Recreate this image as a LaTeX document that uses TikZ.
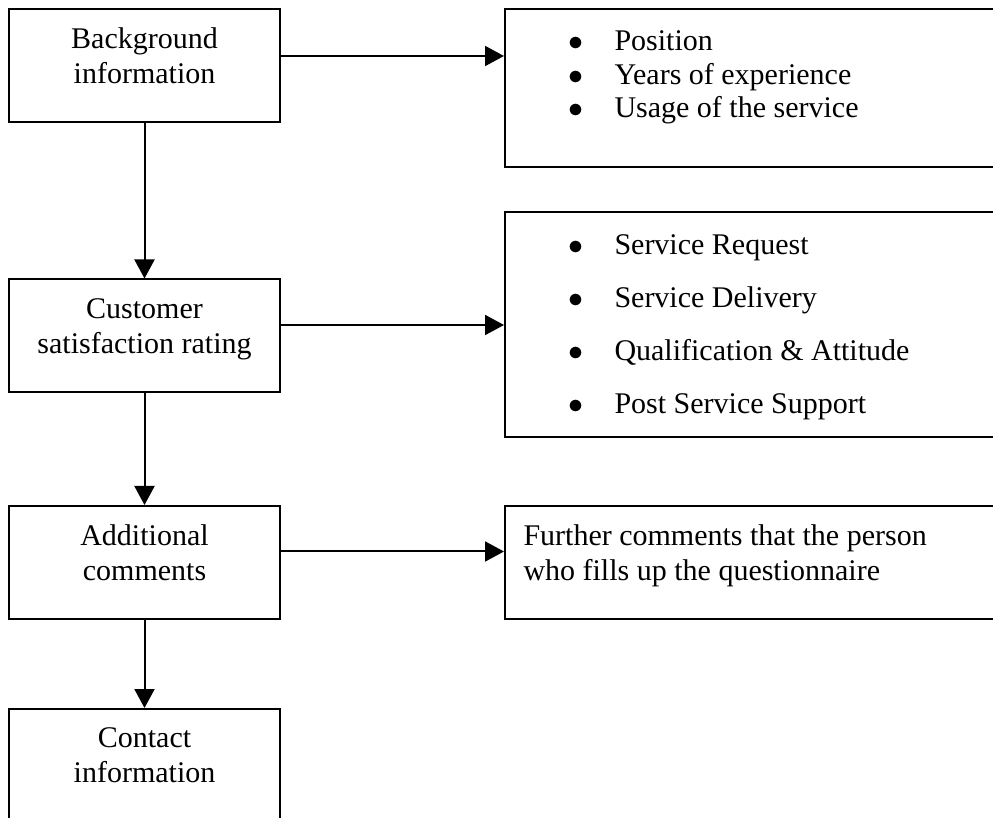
\documentclass[tikz,border=0pt]{standalone}
\usepackage{fontspec}
\setmainfont{Liberation Serif}
\usetikzlibrary{arrows.meta,positioning}

\newcommand{\bulletitem}[1]{\makebox[18.4pt][l]{$\bullet$}#1}

\begin{document}
\begin{tikzpicture}[x=0.4pt, y=-0.4pt,
    every node/.style={font=\fontsize{12pt}{14pt}\selectfont},
    stage/.style={draw, line width=0.8pt, minimum width=108.4pt,
                  minimum height=45.2pt, inner sep=0pt},
    detail/.style={draw, line width=0.8pt, minimum width=202pt, inner sep=0pt},
    caption/.style={align=center, inner sep=0pt},
    itemlist/.style={align=left, inner sep=0pt},
    flow/.style={-{Triangle[length=7.6pt, width=8pt]}, line width=0.8pt}]
  \useasboundingbox (0,0) rectangle (993,818);
  \clip (0,0) rectangle (993,818);

  % --- left column: sections of the questionnaire ---------------------
  \node[stage] (bg) at (144.5,65.5) {};
  \node[caption, below=7.8pt of bg.north] {Background\\information};

  \node[stage] (csr) at (144.5,336) {};
  \node[caption, below=8pt of csr.north] {Customer\\satisfaction rating};

  \node[stage] (add) at (144.5,562.5) {};
  \node[caption, below=7.6pt of add.north] {Additional\\comments};

  \node[stage] (cont) at (144.5,765.5) {};
  \node[caption, below=7.6pt of cont.north] {Contact\\information};

  % --- right column: what each section asks ---------------------------
  \node[detail, minimum height=63.2pt] (prof) at (757.5,88) {};
  \node[itemlist, font=\fontsize{12pt}{13.4pt}\selectfont,
        below right=9pt and 25.6pt of prof.north west]
    {\bulletitem{Position}\\\bulletitem{Years of experience}\\
     \bulletitem{Usage of the service}};

  \node[detail, minimum height=90pt] (svc) at (757.5,324.5) {};
  \node[itemlist, font=\fontsize{12pt}{21.2pt}\selectfont,
        below right=9.3pt and 25.6pt of svc.north west]
    {\bulletitem{Service Request}\\\bulletitem{Service Delivery}\\
     \bulletitem{Qualification \& Attitude}\\\bulletitem{Post Service Support}};

  \node[detail, minimum height=45.2pt] (rem) at (757.5,562.5) {};
  \node[itemlist, below right=7.5pt and 7.6pt of rem.north west]
    {Further comments that the person\\who fills up the questionnaire};

  % --- connectors -----------------------------------------------------
  \draw[flow] (bg) -- (csr);
  \draw[flow] (csr) -- (add);
  \draw[flow] (add) -- (cont);
  \draw[flow] ([yshift=3.8pt]bg.east) -- ([yshift=3.8pt]bg.east -| prof.west);
  \draw[flow] ([yshift=4.4pt]csr.east) -- ([yshift=4.4pt]csr.east -| svc.west);
  \draw[flow] ([yshift=4.4pt]add.east) -- ([yshift=4.4pt]add.east -| rem.west);
\end{tikzpicture}
\end{document}
